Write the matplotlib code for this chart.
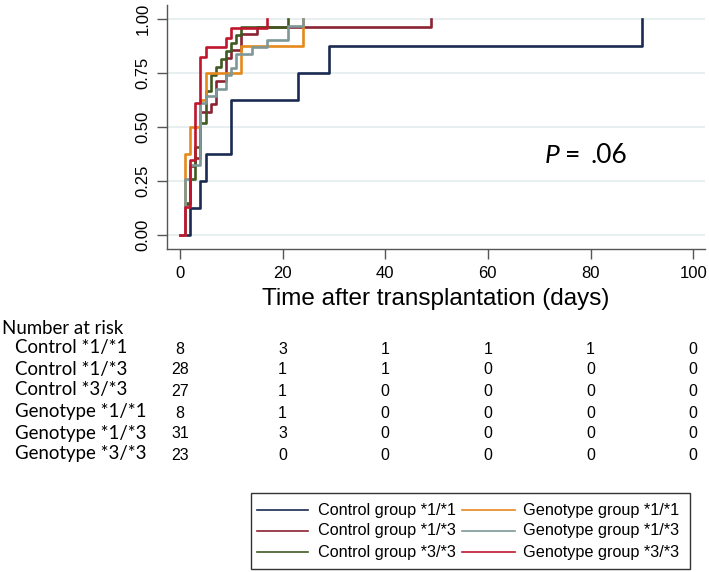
import matplotlib
matplotlib.use("Agg")
import matplotlib.pyplot as plt
from matplotlib.lines import Line2D
from matplotlib.patches import Rectangle
from matplotlib.transforms import blended_transform_factory

# ---------------- data ----------------
labels = ["Control group *1/*1", "Control group *1/*3", "Control group *3/*3",
          "Genotype group *1/*1", "Genotype group *1/*3", "Genotype group *3/*3"]
colors = ["#1b2a52", "#8a2333", "#3e5a20", "#e5891c", "#7d9897", "#c0152d"]

c11_t = [2, 4, 5, 10, 23, 29, 90]
c11_y = [0.125, 0.25, 0.375, 0.625, 0.75, 0.875, 1.0]
c13_t = [1, 2, 3, 4, 6, 7, 9, 10, 12, 15, 49]
c13_y = [0.143, 0.321, 0.357, 0.571, 0.607, 0.714, 0.821, 0.857, 0.929, 0.964, 1.0]
c33_t = [1, 2, 3, 4, 5, 6, 7, 8, 9, 10, 11, 12, 21]
c33_y = [0.148, 0.259, 0.407, 0.519, 0.667, 0.741, 0.778, 0.815, 0.852, 0.889, 0.926, 0.963, 1.0]
g11_t = [1, 2, 4, 5, 12, 24]
g11_y = [0.375, 0.5, 0.625, 0.75, 0.875, 1.0]
g13_t = [1, 2, 4, 5, 7, 9, 10, 11, 14, 17, 21, 24]
g13_y = [0.258, 0.323, 0.613, 0.645, 0.677, 0.742, 0.774, 0.839, 0.871, 0.903, 0.968, 1.0]
g33_t = [1, 2, 3, 4, 5, 9, 10, 17]
g33_y = [0.130, 0.348, 0.609, 0.826, 0.870, 0.913, 0.957, 1.0]

risk_times = [0, 20, 40, 60, 80, 100]
risk_labels = ["Control *1/*1", "Control *1/*3", "Control *3/*3",
               "Genotype *1/*1", "Genotype *1/*3", "Genotype *3/*3"]
risk_c11 = [8, 3, 1, 1, 1, 0]
risk_c13 = [28, 1, 1, 0, 0, 0]
risk_c33 = [27, 1, 0, 0, 0, 0]
risk_g11 = [8, 1, 0, 0, 0, 0]
risk_g13 = [31, 3, 0, 0, 0, 0]
risk_g33 = [23, 0, 0, 0, 0, 0]

xticks = [0, 20, 40, 60, 80, 100]
yticks = [0.0, 0.25, 0.5, 0.75, 1.0]

# ---------------- figure ----------------
W, H = 709, 572
fig = plt.figure(figsize=(W / 100, H / 100), dpi=100)


def fx(px):
    return px / W


def fy(py):
    return 1 - py / H


ax = fig.add_axes([fx(167), fy(249), (705 - 167) / W, (249 - 5) / H])

series = [(c11_t, c11_y), (c13_t, c13_y), (c33_t, c33_y),
          (g11_t, g11_y), (g13_t, g13_y), (g33_t, g33_y)]
for (t, y), col in zip(series, colors):
    ax.plot([0] + t, [0] + y, drawstyle="steps-post", color=col, lw=1.9, zorder=3)

ax.set_xlim(-2.5, 102.3)
ax.set_ylim(-0.065, 1.065)
ax.set_xticks(xticks)
ax.set_yticks(yticks)
ax.set_xticklabels([str(v) for v in xticks], fontfamily="Liberation Sans", fontsize=12)
ax.set_yticklabels(["%.2f" % v for v in yticks], fontfamily="Liberation Sans",
                   fontsize=12, rotation=90, va="center")
ax.grid(axis="y", color="#e3ecee", lw=1.2, zorder=0)
ax.grid(axis="x", visible=False)
for s in ["top", "right"]:
    ax.spines[s].set_visible(False)
for s in ["left", "bottom"]:
    ax.spines[s].set_color("#555555")
    ax.spines[s].set_linewidth(1.0)
ax.tick_params(direction="out", length=7, width=1, color="#555555", pad=5)
ax.set_xlabel("Time after transplantation (days)", fontfamily="Liberation Sans",
              fontsize=17.5, labelpad=5)

# P value annotation
fig.text(fx(545), fy(155), "P", fontfamily="Lato", fontstyle="italic", fontsize=19,
         ha="left", va="center")
fig.text(fx(565), fy(155), "=", fontfamily="Lato", fontsize=19, ha="left", va="center")
fig.text(fx(591), fy(155), ".06", fontfamily="Lato", fontsize=19, ha="left", va="center")

# ---------------- number at risk ----------------
tr = blended_transform_factory(ax.transData, fig.transFigure)
fig.text(fx(2), fy(328), "Number at risk", fontfamily="Lato", fontsize=13.4,
         ha="left", va="center")
risk_rows = [risk_c11, risk_c13, risk_c33, risk_g11, risk_g13, risk_g33]
row_y = [348, 369, 390, 412, 433, 454]
for lab, row, ypx in zip(risk_labels, risk_rows, row_y):
    fig.text(fx(15), fy(ypx), lab, fontfamily="Lato", fontsize=13.4,
             ha="left", va="center")
    for tx, v in zip(risk_times, row):
        fig.text(tx, fy(ypx + 1), str(v), transform=tr,
                 fontfamily="Liberation Sans", fontsize=11.5, ha="center", va="center")

# ---------------- legend (drawn manually, Stata style) ----------------
fig.patches.append(Rectangle((fx(251), fy(569)), (690 - 251) / W, (569 - 493) / H,
                             transform=fig.transFigure, fill=False,
                             edgecolor="#333333", lw=1.0))
leg_rows = [510, 531, 552]
col_line = [(257, 308), (462, 515)]
col_text = [318, 523]
for i in range(6):
    c = i // 3
    r = i % 3
    x0, x1 = col_line[c]
    fig.lines.append(Line2D([fx(x0), fx(x1)], [fy(leg_rows[r])] * 2,
                            transform=fig.transFigure, color=colors[i], lw=1.2))
    fig.text(fx(col_text[c]), fy(leg_rows[r]), labels[i], fontfamily="Liberation Sans",
             fontsize=11.7, ha="left", va="center")

fig.savefig("out.png", dpi=100, facecolor="white")
